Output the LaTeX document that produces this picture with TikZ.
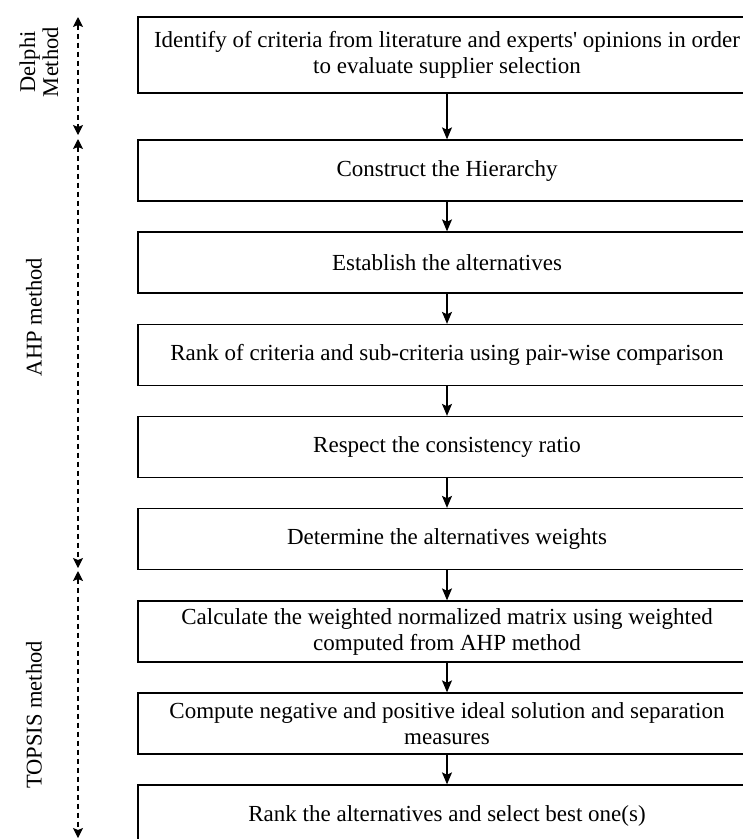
\documentclass[tikz,border=0pt]{standalone}
\usepackage{fontspec}
\setmainfont{Liberation Serif}[Ligatures=TeXOff]
\usetikzlibrary{arrows.meta}

\tikzset{
  stepbox/.style={draw, line width=1.3pt, minimum width=618pt, inner sep=0pt,
    align=center, font=\fontsize{23}{26}\selectfont},
  flowarrow/.style={line width=1.3pt, -{Stealth[length=12pt,width=10pt,inset=2.5pt]}},
  phasearrow/.style={line width=1.1pt, dash pattern=on 5pt off 4pt,
    {Stealth[length=10pt,width=10pt,inset=2pt]}-{Stealth[length=10pt,width=10pt,inset=2pt]}},
  phaselabel/.style={rotate=90, align=center, font=\fontsize{22.5}{23}\selectfont}
}

\begin{document}
\begin{tikzpicture}[x=1pt,y=-1pt]
\useasboundingbox (0,0) rectangle (743,839);

% process steps
\node[stepbox, minimum height=76pt] (b1) at (447,55)
  {Identify of criteria from literature and experts' opinions in order\\to evaluate supplier selection};
\node[stepbox, minimum height=61pt] (b2) at (447,170.5) {Construct the Hierarchy};
\node[stepbox, minimum height=61pt] (b3) at (447,262.5) {Establish the alternatives};
\node[stepbox, minimum height=61pt] (b4) at (447,355) {Rank of criteria and sub-criteria using pair-wise comparison};
\node[stepbox, minimum height=61pt] (b5) at (447,447) {Respect the consistency ratio};
\node[stepbox, minimum height=61pt] (b6) at (447,539) {Determine the alternatives weights};
\node[stepbox, minimum height=61pt] (b7) at (447,631.5)
  {Calculate the weighted normalized matrix using weighted\\computed from AHP method};
\node[stepbox, minimum height=61pt] (b8) at (447,723.5)
  {Compute negative and positive ideal solution and separation\\measures};
\node[stepbox, minimum height=61pt] (b9) at (447,815.5) {Rank the alternatives and select best one(s)};

% flow between steps
\foreach \a/\b in {b1/b2,b2/b3,b3/b4,b4/b5,b5/b6,b6/b7,b7/b8,b8/b9}
  \draw[flowarrow] (\a.south) -- (\b.north);

% phase extents
\coordinate (p0) at (78,17);
\coordinate (p1) at (78,135);
\coordinate (p2) at (78,139);
\coordinate (p3) at (78,568);
\coordinate (p4) at (78,571);
\coordinate (p5) at (78,838);
\draw[phasearrow] (p0) -- (p1);
\draw[phasearrow] (p2) -- (p3);
\draw[phasearrow] (p4) -- (p5);

% phase labels
\node[phaselabel] (l1) at (39,62) {Delphi\\Method};
\node[phaselabel] (l2) at (34,317) {AHP method};
\node[phaselabel] (l3) at (34,715) {TOPSIS method};
\end{tikzpicture}
\end{document}
